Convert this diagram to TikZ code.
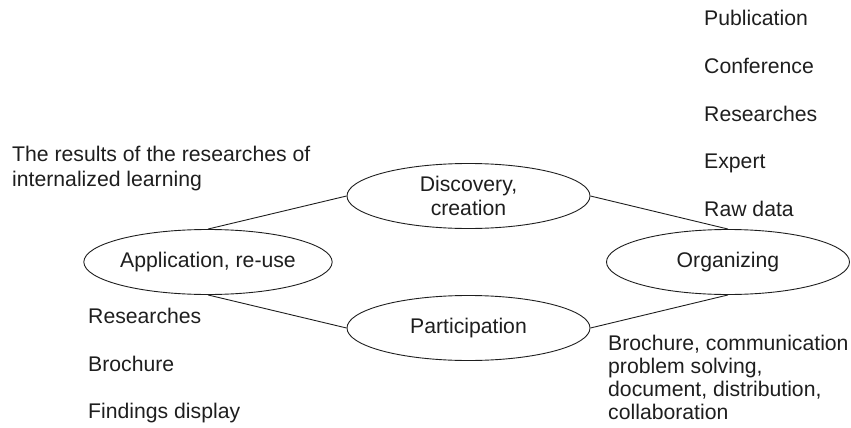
\documentclass[tikz,border=0pt]{standalone}
\usepackage{fontspec}
\setmainfont{Liberation Sans}
\usetikzlibrary{shapes.geometric}
\definecolor{ink}{HTML}{1E1E1E}
\begin{document}
\begin{tikzpicture}[x=1pt,y=-1pt,
  stage/.style={ellipse, draw=ink, line width=0.9pt, minimum width=243pt, minimum height=65pt,
    inner sep=0pt, font=\fontsize{21.2}{23.3}\selectfont, text=ink, align=center},
  note/.style={anchor=base west, inner sep=0pt, font=\fontsize{21.2}{23.3}\selectfont, text=ink, align=left},
  link/.style={draw=ink, line width=0.9pt}]
\useasboundingbox (0,0) rectangle (851,428);

\node[stage] (disc) at (468.5,196) {Discovery,\\creation};
\node[stage] (app)  at (208,262)   {Application, re-use};
\node[stage] (org)  at (728,262)   {Organizing};
\node[stage] (part) at (468.5,328) {Participation};

\draw[link] (app.north) -- (disc.west);
\draw[link] (disc.east) -- (org.north);
\draw[link] (app.south) -- (part.west);
\draw[link] (part.east) -- (org.south);

% base anchor of a multi-line note is the baseline of its last line
\node[note, font=\fontsize{21.2}{25}\selectfont] (results) at (12,186.7)
  {The results of the researches of\\internalized learning};

\node[note] (pub)  at (704,26)    {Publication};
\node[note] (conf) at (704,73.5)  {Conference};
\node[note] (rsr)  at (704,121)   {Researches};
\node[note] (exp)  at (704,168.5) {Expert};
\node[note] (raw)  at (704,216)   {Raw data};

\node[note] (res2) at (88,323.3) {Researches};
\node[note] (bro)  at (88,371)   {Brochure};
\node[note] (find) at (88,418.5) {Findings display};

\node[note] (comm) at (608,419.9)
  {Brochure, communication\\problem solving,\\document, distribution,\\collaboration};
\end{tikzpicture}
\end{document}
